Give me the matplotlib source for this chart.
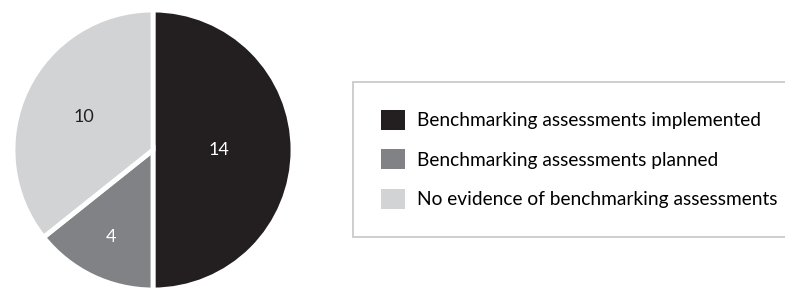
import numpy as np
import matplotlib.pyplot as plt
from matplotlib.patches import Patch

categories = ["Benchmarking assessments implemented",
              "Benchmarking assessments planned",
              "No evidence of benchmarking assessments"]
counts = [14, 4, 10]

colors = ["#231f20", "#808285", "#d1d3d4"]
label_colors = ["white", "white", "#231f20"]
label_radius = [0.47, 0.69, 0.55]

plt.rcParams["font.family"] = ["Lato", "DejaVu Sans"]

fig = plt.figure(figsize=(7.85, 2.88), dpi=100)
ax = fig.add_axes([13 / 785, -2 / 288, 280 / 785, 280 / 288])

wedges, _ = ax.pie(counts, colors=colors, startangle=90, counterclock=False,
                   radius=1, wedgeprops=dict(edgecolor="white", linewidth=3.5))
ax.set_xlim(-1, 1)
ax.set_ylim(-1, 1)
ax.set_aspect("equal")
ax.axis("off")

for w, n, c, r in zip(wedges, counts, label_colors, label_radius):
    mid = np.deg2rad((w.theta1 + w.theta2) / 2)
    ax.text(r * np.cos(mid), r * np.sin(mid), str(n), color=c,
            ha="center", va="center", fontsize=13)

handles = [Patch(facecolor=c, edgecolor="none") for c in colors]
leg = fig.legend(handles, categories, loc="upper left",
                 bbox_to_anchor=(353 / 785, 1 - 82 / 288), borderaxespad=0,
                 fontsize=13.8, frameon=True, fancybox=False,
                 handlelength=1.25, handleheight=1.25, handletextpad=0.63,
                 labelspacing=1.0, borderpad=1.45)
leg.get_frame().set_edgecolor("#bcbec0")
leg.get_frame().set_linewidth(1.3)

fig.savefig("out.png", dpi=100)
